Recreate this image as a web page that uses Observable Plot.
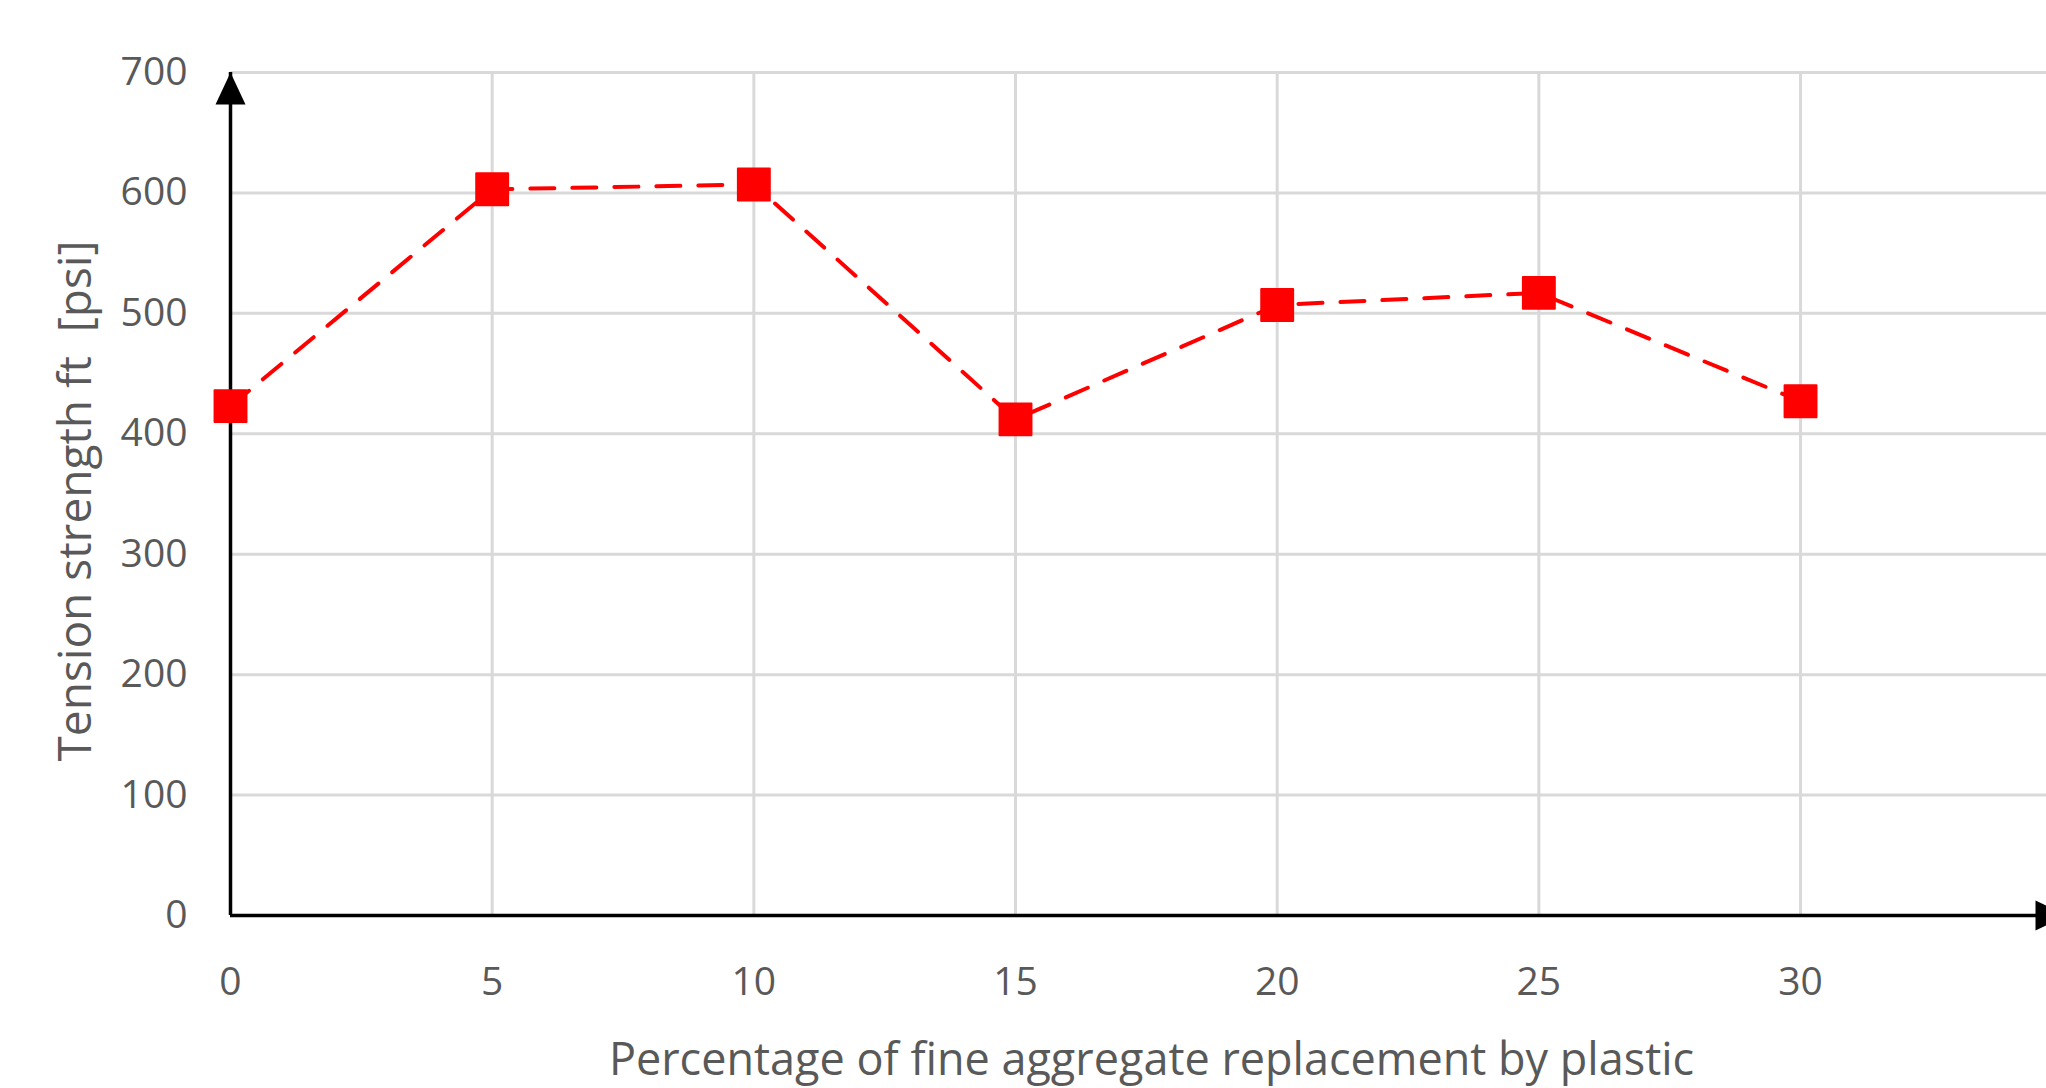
<!DOCTYPE html>
<html>
<head>
<meta charset="utf-8">
<script src="https://cdn.jsdelivr.net/npm/d3@7"></script>
<script src="https://cdn.jsdelivr.net/npm/@observablehq/plot@0.6"></script>
<style>
  html, body { margin: 0; padding: 0; background: #fff; overflow: hidden; }
</style>
</head>
<body>
<div id="chart"></div>
<script>
// ---- data ----
const pct = [0, 5, 10, 15, 20, 25, 30];
const strength = [423, 603, 607, 412, 507, 517, 427];
const xTicks = [0, 5, 10, 15, 20, 25, 30];
const xGridTicks = [5, 10, 15, 20, 25, 30];
const yTicks = [0, 100, 200, 300, 400, 500, 600, 700];
const xDomain = [0, 34.7];
const yDomain = [0, 700];
const xLabel = "Percentage of fine aggregate replacement by plastic";
const yLabel = "Tension strength ft  [psi]";

const data = pct.map((p, i) => ({pct: p, ft: strength[i]}));

const textColor = "#595959";
const font = "Open Sans";

const arrowHead = {
  draw(ctx) {
    ctx.moveTo(0, 0);
    ctx.lineTo(15, 32);
    ctx.lineTo(-15, 32);
    ctx.closePath();
  }
};

const chart = Plot.plot({
  width: 2046,
  height: 1088,
  marginLeft: 230,
  marginRight: 0,
  marginTop: 72,
  marginBottom: 173,
  style: {fontFamily: font, fontSize: "39px", color: textColor, background: "#fff"},
  x: {domain: xDomain, axis: null},
  y: {domain: yDomain, axis: null},
  marks: [
    Plot.gridY(yTicks, {stroke: "#d9d9d9", strokeOpacity: 1, strokeWidth: 3}),
    Plot.gridX(xGridTicks, {stroke: "#d9d9d9", strokeOpacity: 1, strokeWidth: 3}),
    Plot.ruleY([yDomain[0]], {stroke: "#000", strokeWidth: 3.5}),
    Plot.ruleX([xDomain[0]], {y1: yDomain[0], y2: yDomain[1], stroke: "#000", strokeWidth: 3.5}),
    Plot.dot([{x: xDomain[0], y: yDomain[1]}], {x: "x", y: "y", symbol: arrowHead, fill: "#000", stroke: "none", r: 16}),
    Plot.dot([{x: xDomain[1], y: yDomain[0]}], {x: "x", y: "y", symbol: arrowHead, rotate: 90, dx: 21, fill: "#000", stroke: "none", r: 16}),
    Plot.line(data, {x: "pct", y: "ft", stroke: "#ff0000", strokeWidth: 4, strokeDasharray: "24,18", strokeLinecap: "round"}),
    Plot.dot(data, {x: "pct", y: "ft", symbol: "square", r: 18, fill: "#ff0000", stroke: "#ff0000", strokeWidth: 2, strokeLinejoin: "round"}),
    Plot.axisX(xTicks, {tickSize: 0, tickPadding: 52, fill: textColor, fontSize: 39, label: null}),
    Plot.axisY(yTicks, {tickSize: 0, tickPadding: 43, fill: textColor, fontSize: 39, label: null}),
    Plot.text([xLabel], {frameAnchor: "bottom", textAnchor: "middle", dx: 13, dy: 145, lineAnchor: "middle", fill: textColor, fontSize: 45}),
    Plot.text([yLabel], {frameAnchor: "left", textAnchor: "middle", rotate: -90, dx: -154, dy: 7, lineAnchor: "middle", fill: textColor, fontSize: 46})
  ]
});

document.getElementById("chart").appendChild(chart);
</script>
</body>
</html>
